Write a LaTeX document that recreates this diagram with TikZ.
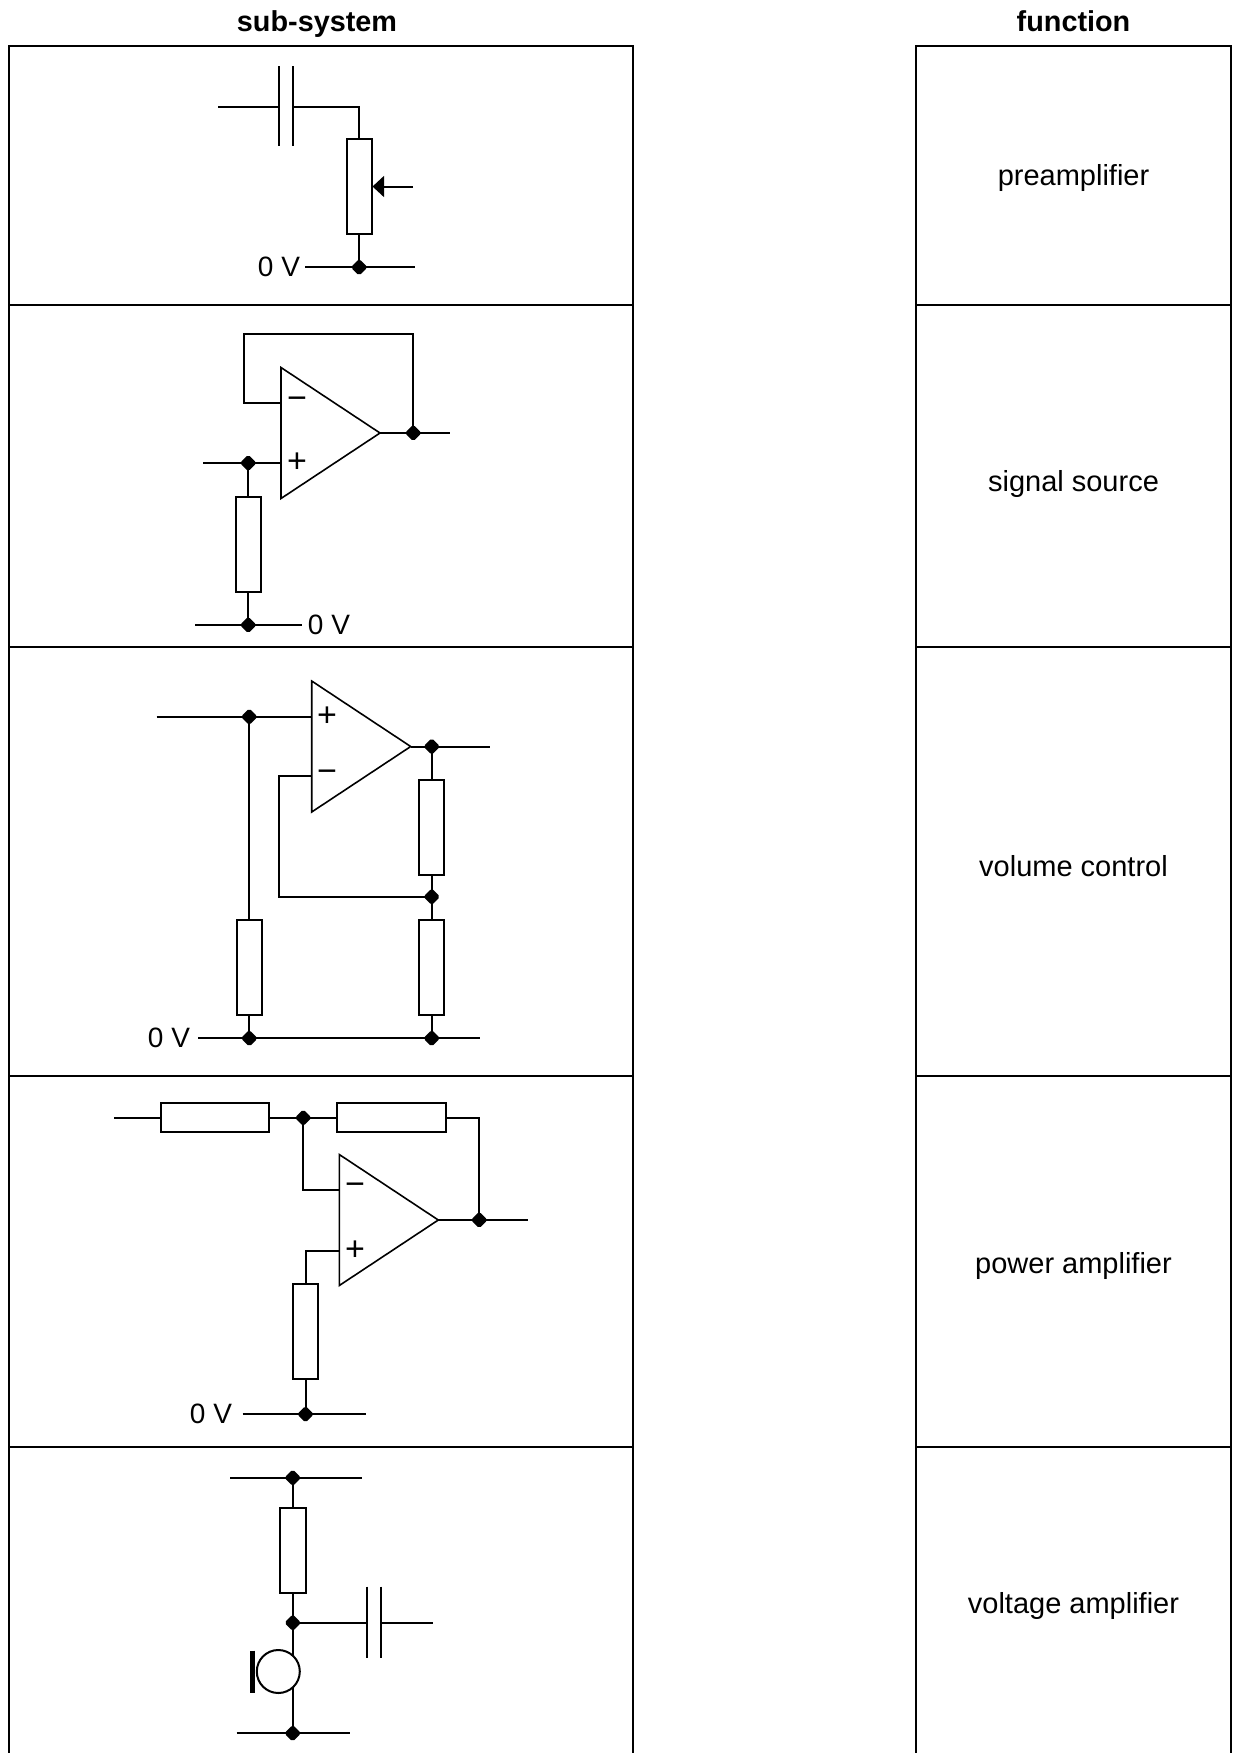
\documentclass[tikz,border=0pt]{standalone}
\usepackage{fontspec}
\setmainfont{Liberation Sans}
\usetikzlibrary{shapes.geometric,arrows.meta}
\tikzset{
 wire/.style={line width=1pt},
 amp/.style={line width=0.8pt, line join=miter},
 capplate/.style={line width=1pt},
 tbl/.style={line width=1.2pt},
 resv/.style={draw, line width=1pt, rectangle, inner sep=0pt, minimum width=12.3pt, minimum height=47.3pt},
 resvs/.style={draw, line width=1pt, rectangle, inner sep=0pt, minimum width=13pt, minimum height=42.2pt},
 resh/.style={draw, line width=1pt, rectangle, inner sep=0pt, minimum width=54.2pt, minimum height=14.5pt},
 jdot/.style={diamond, fill=black, draw=black, line width=1pt, rounded corners=0.8pt, inner sep=0pt, minimum size=7.4pt},
 lbl/.style={font=\fontsize{14}{16}\selectfont, inner sep=0pt},
 sgn/.style={font=\fontsize{17}{19}\selectfont, inner sep=0pt},
 fn/.style={font=\fontsize{14.5}{17}\selectfont, inner sep=0pt, anchor=base},
 hd/.style={font=\bfseries\fontsize{14.4}{17}\selectfont, inner sep=0pt, anchor=base},
}
\begin{document}
\begin{tikzpicture}[x=0.5pt,y=-0.5pt]
\useasboundingbox (0,0) rectangle (1234,1753);

% ---------- table ----------
\draw[tbl] (9,1756) -- (9,45.7) -- (633,45.7) -- (633,1756);
\draw[tbl] (916,1756) -- (916,45.7) -- (1231,45.7) -- (1231,1756);
\foreach \yy in {305,646.7,1076,1446.7}{
  \draw[tbl] (9,\yy) -- (633,\yy);
  \draw[tbl] (916,\yy) -- (1231,\yy);
}
\node[hd] (hsub) at (317,31.5) {sub-system};
\node[hd] (hfun) at (1073.5,31.5) {function};
\node[fn] (f1) at (1073.5,185.7) {preamplifier};
\node[fn] (f2) at (1073.5,491.7) {signal source};
\node[fn] (f3) at (1073.5,876.7) {volume control};
\node[fn] (f4) at (1073.5,1273.3) {power amplifier};
\node[fn] (f5) at (1073.5,1613) {voltage amplifier};

% ---------- circuit 1 ----------
\coordinate (c1in) at (218,106.7);
\coordinate (c1p1) at (279,106.7);
\coordinate (c1p2) at (292.7,106.7);
\draw[wire] (c1in) -- (c1p1);
\draw[capplate] (279,66) -- (279,146);
\draw[capplate] (292.7,66) -- (292.7,146);
\node[resv] (r1) at (359.2,186.5) {};
\draw[wire] (c1p2) -| (r1.north);
\coordinate (c1arr) at (413,186.5);
\draw[wire,-{Triangle[length=5.8pt,width=10.5pt]}] (c1arr) -- (r1.east);
\node[jdot] (d1) at (359.2,267.3) {};
\draw[wire] (r1.south) -- (d1.center);
\coordinate (c1gl) at (305,267.3);
\coordinate (c1gr) at (415,267.3);
\draw[wire] (c1gl) -- (c1gr);
\node[lbl] (v1) at (279,267.3) {0 V};

% ---------- circuit 2 ----------
\coordinate (a2t) at (281,367.5);
\coordinate (a2b) at (281,498.5);
\coordinate (a2o) at (380,433);
\draw[amp] (a2t) -- (a2o) -- (a2b) -- cycle;
\coordinate (a2m) at (281,403);
\coordinate (a2p) at (281,463);
\node[sgn] (s2m) at (297,403) {−};
\node[sgn] (s2p) at (297,463) {+};
\coordinate (c2f1) at (244,403);
\coordinate (c2f2) at (244,334.3);
\coordinate (c2f3) at (413.3,334.3);
\node[jdot] (d2o) at (413.3,433) {};
\draw[wire] (a2m) -- (c2f1) -- (c2f2) -- (c2f3) -- (d2o.center);
\coordinate (c2out) at (450,433);
\draw[wire] (a2o) -- (c2out);
\coordinate (c2in) at (203.3,463);
\node[jdot] (d2i) at (248.3,463) {};
\draw[wire] (c2in) -- (a2p);
\node[resv] (r2) at (248.3,544.5) {};
\draw[wire] (d2i.center) -- (r2.north);
\node[jdot] (d2g) at (248.3,625) {};
\draw[wire] (r2.south) -- (d2g.center);
\coordinate (c2gl) at (195,625);
\coordinate (c2gr) at (301.7,625);
\draw[wire] (c2gl) -- (c2gr);
\node[lbl] (v2) at (329,625) {0 V};

% ---------- circuit 3 ----------
\coordinate (a3t) at (311.7,681);
\coordinate (a3b) at (311.7,812);
\coordinate (a3o) at (410.7,746.5);
\draw[amp] (a3t) -- (a3o) -- (a3b) -- cycle;
\coordinate (a3p) at (311.7,716.7);
\coordinate (a3m) at (311.7,776.3);
\node[sgn] (s3p) at (327,716.7) {+};
\node[sgn] (s3m) at (327,776.3) {−};
\coordinate (c3in) at (156.7,716.7);
\node[jdot] (d3i) at (249.3,716.7) {};
\draw[wire] (c3in) -- (a3p);
\node[resv] (r3a) at (249.3,967.5) {};
\draw[wire] (d3i.center) -- (r3a.north);
\node[jdot] (d3g1) at (249.3,1038.3) {};
\node[jdot] (d3g2) at (431.7,1038.3) {};
\draw[wire] (r3a.south) -- (d3g1.center);
\coordinate (c3gl) at (198.3,1038.3);
\coordinate (c3gr) at (480,1038.3);
\draw[wire] (c3gl) -- (c3gr);
\node[lbl] (v3) at (169,1038.3) {0 V};
\node[jdot] (d3o) at (431.7,746.5) {};
\coordinate (c3out) at (490,746.5);
\draw[wire] (a3o) -- (c3out);
\node[resv] (r3b) at (431.7,827.2) {};
\node[jdot] (d3f) at (431.7,896.7) {};
\node[resv] (r3c) at (431.7,967.5) {};
\draw[wire] (d3o.center) -- (r3b.north);
\draw[wire] (r3b.south) -- (d3f.center) -- (r3c.north);
\draw[wire] (r3c.south) -- (d3g2.center);
\coordinate (c3f1) at (279,896.7);
\coordinate (c3f2) at (279,776.3);
\draw[wire] (d3f.center) -- (c3f1) -- (c3f2) -- (a3m);

% ---------- circuit 4 ----------
\coordinate (c4in) at (114,1117.7);
\node[resh] (r4a) at (215,1117.7) {};
\node[jdot] (d4m) at (303.3,1117.7) {};
\node[resh] (r4b) at (391.5,1117.7) {};
\coordinate (c4fb) at (479.3,1117.7);
\node[jdot] (d4o) at (479.3,1220) {};
\draw[wire] (c4in) -- (r4a.west);
\draw[wire] (r4a.east) -- (r4b.west);
\draw[wire] (r4b.east) -- (c4fb) -- (d4o.center);
\coordinate (a4t) at (339.3,1154.5);
\coordinate (a4b) at (339.3,1285.5);
\coordinate (a4o) at (438.3,1220);
\draw[amp] (a4t) -- (a4o) -- (a4b) -- cycle;
\coordinate (a4m) at (339.3,1189.5);
\coordinate (a4p) at (339.3,1251);
\node[sgn] (s4m) at (355,1189.5) {−};
\node[sgn] (s4p) at (355,1251) {+};
\coordinate (c4out) at (528.3,1220);
\draw[wire] (a4o) -- (c4out);
\coordinate (c4m1) at (303.3,1189.5);
\draw[wire] (d4m.center) -- (c4m1) -- (a4m);
\node[resv] (r4c) at (305.5,1331.7) {};
\coordinate (c4p1) at (305.5,1251);
\draw[wire] (a4p) -- (c4p1) -- (r4c.north);
\node[jdot] (d4g) at (305.5,1414.3) {};
\draw[wire] (r4c.south) -- (d4g.center);
\coordinate (c4gl) at (242.7,1414.3);
\coordinate (c4gr) at (366,1414.3);
\draw[wire] (c4gl) -- (c4gr);
\node[lbl] (v4) at (211,1414.3) {0 V};

% ---------- circuit 5 ----------
\coordinate (c5tl) at (230,1477.7);
\coordinate (c5tr) at (361.7,1477.7);
\draw[wire] (c5tl) -- (c5tr);
\node[jdot] (d5t) at (292.7,1477.7) {};
\node[resvs] (r5) at (292.7,1550.5) {};
\node[jdot] (d5m) at (292.7,1622.7) {};
\draw[wire] (d5t.center) -- (r5.north);
\draw[wire] (r5.south) -- (d5m.center);
\coordinate (c5p1) at (366.7,1622.7);
\coordinate (c5p2) at (381,1622.7);
\coordinate (c5out) at (433.3,1622.7);
\draw[wire] (d5m.center) -- (c5p1);
\draw[wire] (c5p2) -- (c5out);
\draw[capplate] (366.7,1586.7) -- (366.7,1657.7);
\draw[capplate] (381,1586.7) -- (381,1657.7);
\node[circle, draw, line width=1pt, minimum size=21.5pt, inner sep=0pt] (mic) at (278.3,1671.5) {};
\draw[line width=2.5pt] (252.7,1650.7) -- (252.7,1692.7);
\coordinate (c5mt) at (292.7,1655.5);
\coordinate (c5mb) at (292.7,1687.5);
\node[jdot] (d5g) at (292.7,1733.3) {};
\draw[wire] (d5m.center) -- (c5mt);
\draw[wire] (c5mb) -- (d5g.center);
\coordinate (c5gl) at (236.7,1733.3);
\coordinate (c5gr) at (350,1733.3);
\draw[wire] (c5gl) -- (c5gr);
\end{tikzpicture}
\end{document}
